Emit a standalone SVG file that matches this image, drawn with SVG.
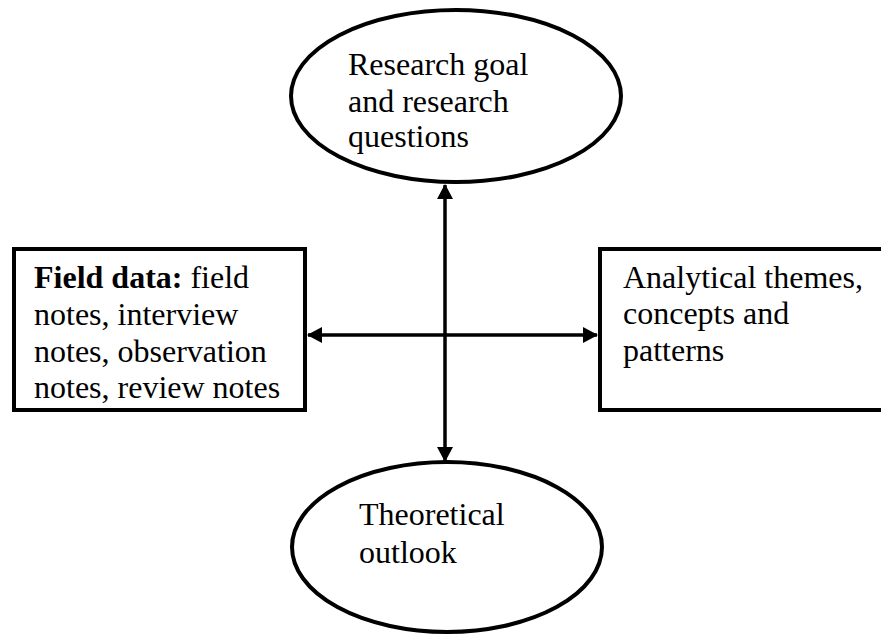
<svg xmlns="http://www.w3.org/2000/svg" width="881" height="635" viewBox="0 0 881 635">
  <style>
    .shape { fill: #ffffff; stroke: #000000; stroke-width: 4; }
    .label { font-family: "Liberation Serif", "Times New Roman", serif; font-size: 32px; fill: #000000; }
    .bold { font-weight: bold; }
    .link { stroke: #000000; stroke-width: 3.5; fill: none; }
  </style>
  <defs>
    <marker id="head" viewBox="0 0 15 16" refX="14" refY="8" markerWidth="15" markerHeight="16" markerUnits="userSpaceOnUse" orient="auto-start-reverse">
      <path d="M0,0 L15,8 L0,16 Z" fill="#000000"/>
    </marker>
  </defs>
  <rect width="881" height="635" fill="#ffffff"/>

  <g id="goal">
    <ellipse class="shape" cx="456" cy="96" rx="165" ry="86"/>
    <text class="label" x="348" y="75">Research goal</text>
    <text class="label" x="348" y="112">and research</text>
    <text class="label" x="348" y="147">questions</text>
  </g>

  <g id="field-data">
    <rect class="shape" x="14" y="249" width="291" height="161"/>
    <text class="label" x="34" y="288"><tspan class="bold">Field data:</tspan> field</text>
    <text class="label" x="34" y="325">notes, interview</text>
    <text class="label" x="34" y="362">notes, observation</text>
    <text class="label" x="34" y="398">notes, review notes</text>
  </g>

  <g id="themes">
    <rect class="shape" x="600" y="249" width="290" height="161"/>
    <text class="label" x="623" y="288">Analytical themes,</text>
    <text class="label" x="623" y="324">concepts and</text>
    <text class="label" x="623" y="361">patterns</text>
  </g>

  <g id="theory">
    <ellipse class="shape" cx="447" cy="547" rx="155" ry="85"/>
    <text class="label" x="359" y="525">Theoretical</text>
    <text class="label" x="359" y="563">outlook</text>
  </g>

  <g id="connectors">
    <line class="link" x1="445" y1="185" x2="445" y2="461" marker-start="url(#head)" marker-end="url(#head)"/>
    <line class="link" x1="308" y1="335" x2="597" y2="335" marker-start="url(#head)" marker-end="url(#head)"/>
  </g>
</svg>
